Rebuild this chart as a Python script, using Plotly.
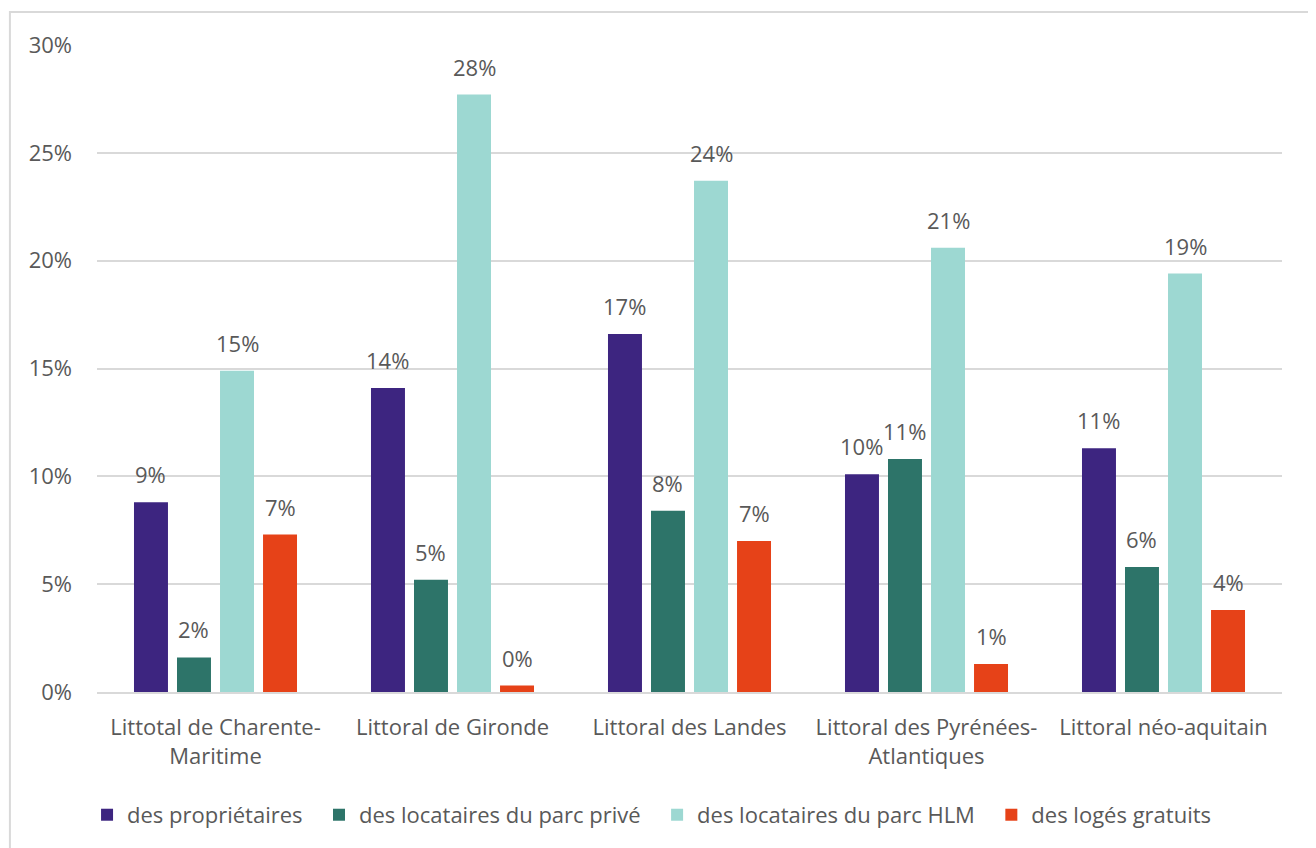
import plotly.graph_objects as go

categories = ["Littotal de Charente-<br>Maritime", "Littoral de Gironde", "Littoral des Landes",
              "Littoral des Pyrénées-<br>Atlantiques", "Littoral néo-aquitain"]
series_names = ["des propriétaires", "des locataires du parc privé",
                "des locataires du parc HLM", "des logés gratuits"]
proprietaires = [0.088, 0.141, 0.166, 0.101, 0.113]
locataires_prive = [0.016, 0.052, 0.084, 0.108, 0.058]
locataires_hlm = [0.149, 0.277, 0.237, 0.206, 0.194]
loges_gratuits = [0.073, 0.003, 0.070, 0.013, 0.038]
colors = ["#3d2580", "#2d7469", "#9dd8d2", "#e64218"]
tick_vals = [0, 0.05, 0.10, 0.15, 0.20, 0.25, 0.30]
tick_text = ["0%", "5%", "10%", "15%", "20%", "25%", "30%"]

FONT = "Open Sans, sans-serif"
TXT = "#595959"
FS = 22
PAD = "\u00a0\u00a0"

fig = go.Figure()
all_series = [proprietaires, locataires_prive, locataires_hlm, loges_gratuits]
for name, vals, col in zip(series_names, all_series, colors):
    fig.add_trace(go.Bar(
        x=categories, y=vals, name=name + PAD, marker_color=col, marker_line_width=0,
    ))

# data labels above bars, positioned from the data values
bargap = 0.274
groupgap = 0.21
plot_w = 1185
slot = plot_w / len(categories) * (1 - bargap) / len(all_series)
for i, vals in enumerate(all_series):
    for cat, v in zip(categories, vals):
        fig.add_annotation(
            x=cat, y=v, xref="x", yref="y", text=f"{round(v * 100):.0f}%",
            showarrow=False, xshift=(i - 1.5) * slot, yshift=28, yanchor="middle",
            font=dict(family=FONT, size=FS, color=TXT),
        )

fig.update_layout(
    width=1308, height=840,
    paper_bgcolor="white", plot_bgcolor="white",
    font=dict(family=FONT, size=FS, color=TXT),
    margin=dict(l=89, r=34, t=37, b=156),
    barmode="group", bargap=bargap, bargroupgap=groupgap,
    showlegend=True,
    legend=dict(orientation="h", x=-0.0084, xanchor="left", y=-0.19, yanchor="middle",
                font=dict(family=FONT, size=FS, color=TXT), itemwidth=30, traceorder="normal"),
)
fig.update_yaxes(range=[0, 0.30], tickvals=tick_vals, ticktext=tick_text,
                 showgrid=True, gridcolor="#d9d9d9", gridwidth=1.5, zeroline=False,
                 showline=False, ticklabelstandoff=24, tickfont=dict(family=FONT, size=FS, color=TXT))
fig.update_xaxes(showline=True, linecolor="#d9d9d9", linewidth=1.5, showgrid=False,
                 tickfont=dict(family=FONT, size=FS, color=TXT), ticklabelstandoff=15)

fig.add_shape(type="rect", xref="paper", yref="paper", x0=-0.0735, x1=1.024, y0=-0.3, y1=1.051,
              line=dict(color="#d9d9d9", width=2), fillcolor="rgba(0,0,0,0)", layer="below")

fig.write_html("out.html")
